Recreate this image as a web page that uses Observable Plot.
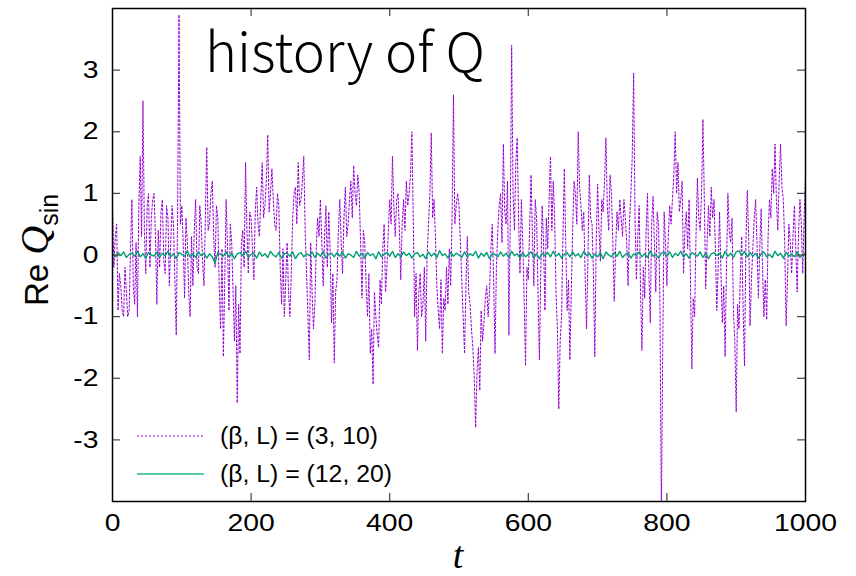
<!DOCTYPE html>
<html><head><meta charset="utf-8">
<script src="https://cdn.jsdelivr.net/npm/d3@7"></script>
<script src="https://cdn.jsdelivr.net/npm/@observablehq/plot@0.6"></script>
<style>body{margin:0;background:#fff}#chart{width:856px;height:576px;position:relative}</style>
</head><body><div id="chart"></div>
<script>
const tStepA = 2;
const tStepB = 4;
const qBeta3L10 = [
 0.8,-0.2,0.3,0.5,-0.9,-0.3,-0.5,-0.9,-1.0,-0.2,-0.6,-1.0,-0.9,0.1,0.9,-0.5,-0.8,0.2,-1.0,0.8,1.6,0.3,2.5,0.4,-0.3,0.8,1.0,-0.2,0.6,0.9,1.0,0.3,-0.8,0.4,-0.2,0.7,0.9,-0.1,-0.3,0.8,0.6,-0.5,0.2,0.8,0.5,-0.4,-1.3,0.7,3.9,0.5,
 0.8,0.2,-0.7,0.6,0.2,-0.6,-1.0,0.3,-0.5,0.4,0.9,-0.2,-0.3,0.8,0.5,-0.1,-0.5,0.6,1.75,0.4,0.5,1.0,1.2,0.3,-0.2,0.8,0.6,-0.5,-1.2,0.1,-1.65,-0.4,0.9,0.1,-0.9,0.5,0.2,-0.6,-1.4,-0.5,-2.4,-0.8,-1.6,0.2,0.4,-0.2,1.5,0.4,-0.3,0.7,
 0.6,0.1,-0.4,0.7,1.1,0.5,0.3,0.9,1.5,0.6,0.8,1.2,1.95,0.7,1.0,1.4,0.9,0.5,0.4,1.0,0.8,-0.2,-0.8,0.1,-1.0,-0.4,0.2,-0.6,-1.0,-0.3,0.6,1.0,1.1,0.5,1.5,0.8,0.9,1.2,1.6,0.4,-0.3,-1.0,-1.7,0.2,-0.6,-1.2,-0.8,0.1,0.6,0.3,
 0.9,0.2,-0.5,0.3,0.8,-0.2,0.7,0.1,-1.1,-0.3,-1.75,-0.6,-0.4,0.4,0.9,0.2,-0.3,0.6,1.1,0.3,0.5,0.9,1.2,0.6,1.45,1.0,0.8,1.3,1.0,0.2,-0.7,0.4,0.2,-0.5,-1.0,-0.3,-1.6,-1.2,-2.1,-0.6,-1.0,-1.3,-1.5,-0.4,-0.8,0.1,0.5,-0.6,-0.2,0.4,
 0.9,0.5,1.6,0.8,0.3,0.9,1.0,0.4,-0.4,0.5,0.9,0.4,1.2,0.8,1.0,1.3,2.0,0.6,-1.0,-0.3,-1.55,-0.6,-0.3,-1.0,-0.8,-0.2,-1.4,0.0,0.5,1.0,1.98,0.6,0.9,0.3,-0.5,-0.9,-1.2,-0.4,-1.6,-0.7,-0.9,-0.2,-0.8,0.1,-0.5,0.6,2.6,0.5,0.8,1.0,
 0.8,0.2,-0.4,-1.0,-1.6,-0.5,0.3,-0.6,-0.8,-1.2,-1.5,-2.0,-2.8,-1.9,-1.5,-2.2,-0.9,-1.4,-1.1,-0.7,-0.5,-1.0,-0.6,0.1,0.5,-0.4,-1.6,-0.2,0.4,0.8,1.0,0.2,1.8,0.7,0.5,1.2,-1.3,0.6,3.4,1.0,0.4,1.5,1.9,0.6,-0.3,0.9,0.2,-0.7,-1.8,-0.2,
 -0.4,0.5,1.3,0.3,-0.5,0.9,0.6,-0.6,-1.7,-0.3,0.8,0.2,-0.9,0.6,0.1,0.9,1.6,0.4,1.2,0.6,-0.6,-1.2,-2.5,-1.4,-1.0,0.3,1.4,0.2,-0.9,-0.4,-1.7,-0.6,0.4,1.2,1.0,0.5,2.0,1.1,0.8,0.4,0.7,-0.3,-1.2,-0.1,1.3,0.6,0.5,-0.3,-1.65,0.2,
 1.15,0.4,-0.1,0.9,0.7,1.2,1.9,0.8,0.4,1.3,1.0,0.2,-0.75,0.1,0.7,0.4,0.9,0.6,0.3,0.9,0.6,0.2,-0.5,0.5,1.0,1.6,2.95,0.6,-0.4,0.3,0.8,-0.6,-1.55,-0.2,-0.7,0.4,1.0,-0.3,-1.1,0.5,0.95,0.2,-0.6,0.7,0.5,-0.8,-4.2,-1.5,0.7,0.2,
 -0.5,0.3,0.8,0.5,0.9,1.3,2.0,1.0,1.5,0.7,0.9,1.2,-0.3,0.4,0.7,0.1,0.9,-0.4,-1.85,-0.7,-1.0,0.3,1.25,0.6,0.4,1.0,2.2,0.9,-0.55,0.2,0.8,0.3,1.1,0.6,0.9,0.1,-0.9,-0.2,0.7,-0.3,-1.1,-0.5,-1.65,-0.2,1.0,0.4,0.2,0.6,-0.9,-1.4,
 -2.55,-0.8,-1.2,-0.3,0.3,-0.9,-1.8,0.2,1.05,0.3,-1.15,-0.4,0.1,0.6,0.9,0.2,-0.7,0.1,0.75,-0.2,-1.0,-0.4,-1.05,0.3,0.9,0.6,1.4,1.0,1.8,0.9,0.4,1.2,1.8,1.1,0.9,0.2,-1.15,-0.4,0.5,0.2,-0.3,0.3,0.8,0.1,-0.6,0.4,0.9,0.5,-0.3,0.6,1.28
];
const qBeta12L20 = [
 0.02,-0.03,0.04,-0.01,0.05,-0.04,0.01,0.03,-0.02,0.06,
 -0.03,0.02,-0.05,0.04,0.00,-0.02,0.05,-0.04,0.03,-0.01,
 0.06,-0.03,0.02,-0.06,0.04,0.01,-0.02,0.07,-0.03,0.02,
 -0.04,0.05,-0.01,0.03,-0.05,0.02,-0.03,-0.13,0.04,0.01,
 -0.02,0.05,-0.03,0.03,-0.06,0.02,0.04,-0.01,0.06,-0.04,
 0.01,0.03,-0.05,0.05,-0.02,0.02,-0.04,0.06,0.00,-0.03,
 0.04,-0.05,0.02,0.03,-0.02,0.05,-0.06,0.01,0.04,-0.03,
 0.02,-0.01,0.05,-0.04,0.03,-0.02,0.06,-0.05,0.01,0.03,
 -0.03,0.04,-0.02,0.05,-0.05,0.02,0.00,-0.04,0.06,-0.02,
 0.03,-0.05,0.04,-0.01,0.02,-0.06,0.05,-0.03,0.01,0.04,
 -0.02,0.06,-0.04,0.02,-0.03,0.05,-0.01,0.03,-0.05,0.02,
 0.04,-0.03,0.01,-0.06,0.05,-0.02,0.03,-0.04,0.07,-0.01,
 0.02,-0.05,0.04,-0.02,0.03,0.00,-0.04,0.05,-0.03,0.02,
 -0.01,0.06,-0.05,0.03,-0.02,0.04,-0.06,0.02,0.01,-0.03,
 0.05,-0.02,0.03,-0.04,0.06,-0.01,0.02,-0.05,0.04,-0.03,
 0.01,0.05,-0.04,0.02,-0.06,0.03,-0.01,0.04,-0.03,0.06,
 -0.02,0.03,-0.05,0.01,0.04,-0.03,0.05,-0.02,0.02,-0.04,
 0.06,-0.01,0.03,-0.05,0.02,-0.03,0.04,-0.06,0.05,0.00,
 -0.03,0.04,-0.02,0.06,-0.04,0.01,0.03,-0.05,0.02,-0.01,
 0.05,-0.03,0.02,-0.04,0.07,-0.02,0.01,-0.05,0.03,0.04,
 -0.02,0.05,-0.04,0.03,-0.01,0.06,-0.03,0.02,-0.05,0.04,
 0.01,-0.02,0.05,-0.04,0.03,-0.06,0.02,0.04,-0.01,0.03,
 -0.05,0.06,-0.02,0.03,-0.04,0.05,0.07,-0.01,0.06,-0.03,
 0.04,-0.02,0.03,-0.05,0.02,0.05,-0.03,0.01,-0.04,0.06,
 -0.01,0.03,-0.05,0.04,-0.02,0.02,-0.03,0.05,-0.04,0.01,
 0.02
];
const xTicks = [0, 200, 400, 600, 800, 1000];
const xInnerTicks = [200, 400, 600, 800];
const yTicks = [-3, -2, -1, 0, 1, 2, 3];
const seriesLabels = ["(β, L) = (3, 10)", "(β, L) = (12, 20)"];
const seriesColors = ["#9400D3", "#009E73"];
const titleText = "history of Q";

const rowsA = qBeta3L10.map((v, i) => ({t: i * tStepA, q: v}));
const rowsB = qBeta12L20.map((v, i) => ({t: i * tStepB, q: v}));

const W = 856, H = 576, ML = 112, MR = 51, MT = 8, MB = 75;
const fw = W - ML - MR, fh = H - MT - MB;

const plot = Plot.plot({
  width: W, height: H,
  marginLeft: ML, marginRight: MR, marginTop: MT, marginBottom: MB,
  style: {fontFamily: "'Liberation Sans', Arial, sans-serif", fontSize: "24px", color: "#000", background: "#fff", overflow: "visible"},
  x: {domain: [0, 1000]},
  y: {domain: [-4, 4]},
  marks: [
    Plot.lineY(rowsA, {x: "t", y: "q", stroke: seriesColors[0], strokeWidth: 1, strokeDasharray: "2,2", clip: true}),
    Plot.lineY(rowsB, {x: "t", y: "q", stroke: seriesColors[1], strokeWidth: 1.4, clip: true}),
    Plot.tickY(yTicks, {y: d => d, insetRight: fw - 8, stroke: "#444", strokeWidth: 1.2}),
    Plot.tickY(yTicks, {y: d => d, insetLeft: fw - 8, stroke: "#444", strokeWidth: 1.2}),
    Plot.tickX(xInnerTicks, {x: d => d, insetTop: fh - 8, stroke: "#444", strokeWidth: 1.2}),
    Plot.tickX(xInnerTicks, {x: d => d, insetBottom: fh - 8, stroke: "#444", strokeWidth: 1.2}),
    Plot.axisX({anchor: "bottom", ticks: xTicks, tickSize: 0, tickPadding: 12, label: null, tickFormat: d => String(d)}),
    Plot.axisY({anchor: "left", ticks: yTicks, tickSize: 0, tickPadding: 14, label: null, tickFormat: d => String(d)}),
    Plot.frame({stroke: "#000", strokeWidth: 1.5})
  ]
});
document.getElementById("chart").appendChild(plot);

const svg = d3.select(plot);
svg.selectAll('g[aria-label$="tick label"] text').each(function () {
  const tr = this.getAttribute("transform") || "";
  this.setAttribute("transform", tr + " scale(1.18,1)");
});

// title
svg.append("text")
  .attr("x", 205).attr("y", 72).attr("text-anchor", "start")
  .attr("font-family", "'Noto Sans CJK JP', 'Noto Sans', sans-serif")
  .attr("font-size", 54).attr("font-weight", 300)
  .attr("textLength", 280).attr("lengthAdjust", "spacingAndGlyphs")
  .attr("fill", "#000")
  .text(titleText);

// y label
const yl = svg.append("text")
  .attr("transform", "translate(48,250) rotate(-90)")
  .attr("text-anchor", "middle").attr("fill", "#000");
yl.append("tspan").attr("font-family", "'Liberation Sans', Arial, sans-serif").attr("font-size", 33).text("Re ");
yl.append("tspan").attr("font-family", "'Liberation Serif', serif").attr("font-style", "italic").attr("font-size", 40).text("Q");
yl.append("tspan").attr("font-family", "'Liberation Sans', Arial, sans-serif").attr("font-size", 25).attr("dy", 10).text("sin");

// x label
svg.append("text")
  .attr("x", 458).attr("y", 568).attr("text-anchor", "middle")
  .attr("font-family", "'Liberation Serif', serif").attr("font-style", "italic")
  .attr("font-size", 38).attr("fill", "#000").text("t");

// legend
const legY = [436, 474];
const legLen = [158, 172];
const legendLineColors = [seriesColors[0], "#5cc8a4"];
seriesLabels.forEach((lab, i) => {
  const ln = svg.append("line").attr("x1", 137).attr("x2", 204).attr("y1", legY[i]).attr("y2", legY[i])
    .attr("stroke", legendLineColors[i]).attr("stroke-width", i === 0 ? 1 : 2);
  if (i === 0) ln.attr("stroke-dasharray", "2,2");
  svg.append("text").attr("x", 220).attr("y", legY[i]).attr("dy", "0.36em").attr("text-anchor", "start")
    .attr("font-family", "'Liberation Sans', Arial, sans-serif").attr("font-size", 23)
    .attr("textLength", legLen[i]).attr("lengthAdjust", "spacingAndGlyphs")
    .attr("fill", "#000").text(lab);
});
</script>
</body></html>
